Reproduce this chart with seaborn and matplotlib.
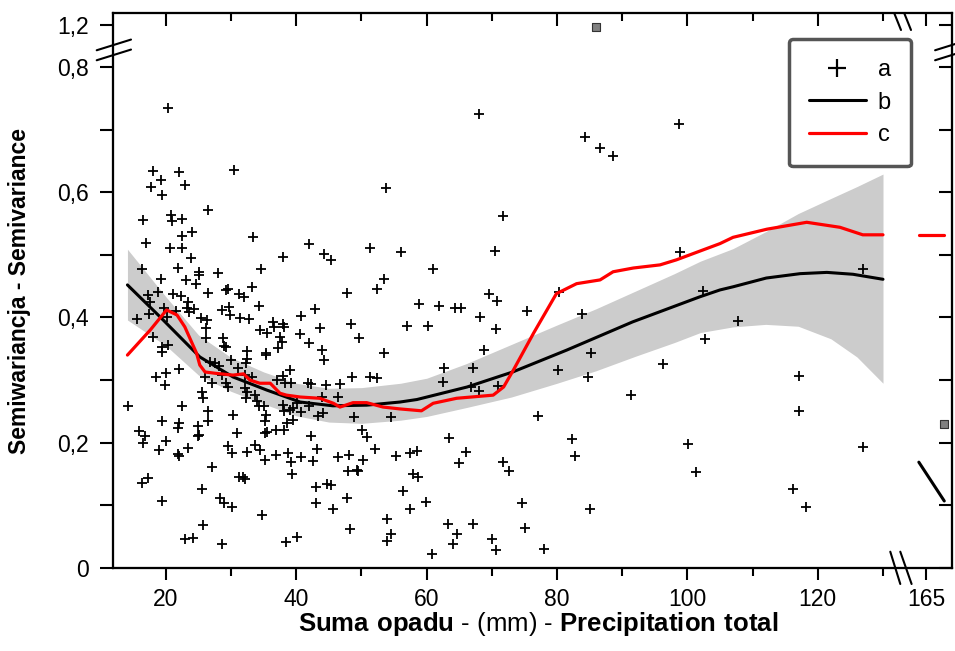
import numpy as np
import matplotlib
matplotlib.use('Agg')
import matplotlib.pyplot as plt
from matplotlib.lines import Line2D
from matplotlib.ticker import FixedLocator, FixedFormatter
import seaborn as sns

# measured points (precipitation total, semivariance)
precip = [20.28, 18.07, 22.01, 19.29, 17.71, 22.93, 19.40, 30.44, 26.50, 20.78, 22.42, 53.76, 16.44,
          68.02, 84.28, 86.62, 88.53, 98.69, 71.65, 20.89, 16.95, 23.96, 22.51, 20.63, 22.51, 23.85,
          16.38, 21.90, 25.08, 25.08, 19.25, 23.04, 24.62, 28.04, 26.50, 18.83, 21.04, 22.27, 17.21,
          17.56, 17.45, 23.43, 23.28, 23.54, 24.31, 19.71, 20.12, 21.55, 15.52, 17.97, 25.34, 26.30,
          26.15, 26.15, 19.40, 19.36, 20.37, 29.22, 29.57, 31.26, 32.02, 33.16, 33.40, 34.59, 34.28,
          28.56, 29.72, 29.83, 31.36, 32.79, 28.71, 29.22, 28.91, 32.39, 34.43, 35.46, 36.47, 36.58,
          37.91, 38.11, 37.50, 37.76, 37.24, 35.31, 35.35, 38.01, 41.95, 44.25, 45.28, 40.72, 42.87,
          43.63, 40.57, 41.99, 43.89, 44.29, 47.73, 48.34, 49.62, 51.30, 53.50, 52.38, 53.45, 56.01,
          56.98, 58.82, 18.48, 20.01, 19.86, 22.05, 14.14, 26.76, 27.53, 28.14, 29.98, 31.10, 32.24,
          32.39, 26.00, 27.02, 28.56, 29.17, 29.57, 32.13, 33.25, 36.99, 37.91, 39.03, 38.27, 39.19,
          41.84, 42.21, 44.55, 46.70, 48.50, 51.30, 52.33, 25.49, 25.74, 22.51, 26.50, 32.13, 32.24,
          32.39, 33.66, 33.93, 34.28, 35.09, 35.35, 35.20, 30.34, 37.91, 38.16, 39.03, 39.54, 40.15,
          40.72, 41.99, 43.37, 44.05, 43.89, 46.35, 48.85, 54.52, 19.36, 22.05, 21.90, 15.87, 16.79,
          16.53, 20.01, 18.94, 24.88, 25.12, 24.97, 26.50, 30.86, 35.20, 35.46, 36.89, 38.11, 38.53,
          39.54, 42.21, 43.22, 50.03, 50.80, 52.07, 21.90, 22.05, 23.43, 29.57, 30.09, 32.39, 33.66,
          34.43, 35.20, 36.89, 38.77, 39.14, 40.67, 42.61, 46.35, 48.13, 50.28, 47.97, 49.26, 49.42,
          55.29, 57.44, 58.46, 57.94, 58.71, 27.02, 31.26, 31.87, 32.13, 39.39, 16.29, 17.30, 25.49,
          19.45, 28.30, 28.96, 30.09, 34.79, 43.02, 43.02, 44.66, 45.32, 45.58, 47.73, 48.24, 53.87,
          54.52, 53.87, 56.32, 57.44, 25.64, 22.93, 24.11, 28.56, 38.42, 40.15, 70.47, 61.01, 69.60,
          70.73, 61.93, 64.34, 65.21, 60.24, 68.17, 70.63, 75.34, 68.83, 62.70, 62.55, 67.05, 66.79,
          68.02, 70.98, 80.29, 83.86, 85.20, 80.09, 84.69, 91.33, 96.29, 98.85, 102.42, 102.68, 77.02,
          63.46, 82.33, 100.12, 82.74, 101.30, 65.98, 65.00, 71.75, 72.62, 59.84, 74.66, 85.04, 63.22,
          67.05, 64.69, 63.99, 75.08, 70.06, 70.58, 78.04, 60.77, 126.96, 107.70, 117.10, 117.10,
          126.96, 116.22, 118.13]
semivar = [0.735, 0.634, 0.632, 0.619, 0.608, 0.612, 0.595, 0.636, 0.571, 0.564, 0.557, 0.606, 0.556,
           0.725, 0.688, 0.670, 0.658, 0.709, 0.562, 0.554, 0.519, 0.536, 0.530, 0.511, 0.511, 0.495,
           0.478, 0.479, 0.473, 0.468, 0.461, 0.460, 0.453, 0.471, 0.439, 0.441, 0.437, 0.434, 0.436,
           0.425, 0.405, 0.425, 0.415, 0.409, 0.413, 0.415, 0.400, 0.410, 0.398, 0.369, 0.399, 0.396,
           0.383, 0.368, 0.353, 0.345, 0.356, 0.444, 0.445, 0.437, 0.433, 0.448, 0.528, 0.477, 0.418,
           0.412, 0.416, 0.404, 0.399, 0.398, 0.367, 0.353, 0.354, 0.347, 0.380, 0.376, 0.392, 0.385,
           0.390, 0.385, 0.369, 0.361, 0.351, 0.343, 0.340, 0.496, 0.517, 0.501, 0.492, 0.403, 0.413,
           0.384, 0.373, 0.359, 0.348, 0.332, 0.439, 0.389, 0.368, 0.511, 0.462, 0.445, 0.344, 0.504,
           0.387, 0.421, 0.305, 0.311, 0.292, 0.318, 0.258, 0.329, 0.327, 0.323, 0.332, 0.319, 0.328,
           0.333, 0.305, 0.296, 0.308, 0.295, 0.289, 0.308, 0.305, 0.300, 0.307, 0.316, 0.295, 0.295,
           0.296, 0.293, 0.292, 0.293, 0.305, 0.305, 0.303, 0.281, 0.271, 0.258, 0.250, 0.287, 0.271,
           0.281, 0.276, 0.266, 0.259, 0.259, 0.244, 0.234, 0.244, 0.260, 0.250, 0.253, 0.255, 0.263,
           0.249, 0.258, 0.243, 0.247, 0.273, 0.273, 0.241, 0.241, 0.234, 0.231, 0.223, 0.219, 0.210,
           0.200, 0.202, 0.188, 0.227, 0.212, 0.210, 0.234, 0.216, 0.215, 0.217, 0.221, 0.221, 0.231,
           0.236, 0.211, 0.190, 0.220, 0.209, 0.190, 0.182, 0.179, 0.191, 0.195, 0.184, 0.186, 0.196,
           0.188, 0.172, 0.180, 0.184, 0.170, 0.177, 0.171, 0.178, 0.180, 0.172, 0.155, 0.156, 0.155,
           0.179, 0.183, 0.187, 0.150, 0.146, 0.161, 0.146, 0.146, 0.142, 0.150, 0.135, 0.144, 0.126,
           0.107, 0.111, 0.103, 0.098, 0.084, 0.130, 0.103, 0.134, 0.133, 0.095, 0.111, 0.063, 0.079,
           0.055, 0.043, 0.123, 0.095, 0.069, 0.046, 0.048, 0.038, 0.042, 0.050, 0.506, 0.477, 0.437,
           0.427, 0.418, 0.415, 0.415, 0.386, 0.401, 0.382, 0.411, 0.348, 0.319, 0.297, 0.319, 0.289,
           0.283, 0.291, 0.441, 0.405, 0.344, 0.316, 0.305, 0.276, 0.326, 0.504, 0.443, 0.365, 0.243,
           0.208, 0.206, 0.198, 0.179, 0.154, 0.185, 0.167, 0.169, 0.155, 0.106, 0.103, 0.094, 0.071,
           0.071, 0.054, 0.039, 0.064, 0.046, 0.029, 0.031, 0.022, 0.477, 0.395, 0.307, 0.251,
           0.194, 0.126, 0.097]

# outliers shown beyond the axis breaks
out_precip = [85.97, 167.76]
out_semivar = [1.197, 0.230]

# polynomial fit (b) with confidence band
fit_x = [14.1, 19.1, 25.2, 30.3, 35.5, 40.6, 45.6, 50.8, 55.9, 58.5, 66.2, 73.2, 81.5, 91.6,
         101.9, 105.0, 107.0, 112.1, 117.3, 121.4, 125.4, 130.0]
fit_y = [0.452, 0.401, 0.337, 0.305, 0.284, 0.265, 0.259, 0.260, 0.265, 0.269, 0.289, 0.313,
         0.348, 0.393, 0.433, 0.444, 0.449, 0.463, 0.470, 0.472, 0.469, 0.461]
fit_tail_x = [163.9, 167.8]
fit_tail_y = [0.169, 0.107]

band_x = [14.1, 20, 25, 30, 35, 40, 45, 50, 56, 60, 66, 73, 80, 86, 92, 98, 102, 107, 112, 117,
          122, 126, 130]
band_hi = [0.509, 0.433, 0.372, 0.336, 0.313, 0.295, 0.287, 0.288, 0.295, 0.303, 0.326, 0.357,
           0.388, 0.414, 0.442, 0.470, 0.490, 0.510, 0.537, 0.566, 0.590, 0.609, 0.629]
band_lo = [0.396, 0.355, 0.308, 0.282, 0.262, 0.243, 0.233, 0.231, 0.236, 0.242, 0.256, 0.273,
           0.295, 0.315, 0.338, 0.360, 0.376, 0.385, 0.389, 0.386, 0.366, 0.337, 0.295]

# smoothed curve (c)
smooth_x = [14.1, 17.6, 20.1, 21.7, 22.9, 24.7, 25.2, 26.0, 27.5, 30.3, 31.9, 32.9, 34.4, 36.0,
            37.5, 38.5, 40.6, 43.6, 45.7, 46.7, 48.7, 50.8, 53.3, 55.9, 59.2, 61.0, 64.6, 70.2,
            71.8, 73.3, 76.4, 79.9, 83.0, 86.6, 88.6, 91.7, 95.8, 98.3, 105.0, 107.0, 112.2,
            118.3, 123.4, 126.9, 130.0]
smooth_y = [0.340, 0.380, 0.412, 0.404, 0.385, 0.343, 0.324, 0.313, 0.311, 0.308, 0.310, 0.300,
            0.295, 0.295, 0.279, 0.276, 0.273, 0.271, 0.263, 0.257, 0.264, 0.264, 0.257, 0.254,
            0.251, 0.263, 0.271, 0.276, 0.289, 0.316, 0.375, 0.438, 0.454, 0.460, 0.473, 0.479,
            0.484, 0.492, 0.518, 0.528, 0.541, 0.552, 0.544, 0.532, 0.532]
smooth_tail_x = [163.9, 167.7]
smooth_tail_y = [0.532, 0.532]

x_major = [20, 40, 60, 80, 100, 120, 165]
x_minor = [30, 50, 70, 90, 110, 130]
y_ticks = [0, 0.1, 0.2, 0.3, 0.4, 0.5, 0.6, 0.7, 0.8, 1.2]
y_labels = ['0', '', '0,2', '', '0,4', '', '0,6', '', '0,8', '1,2']

X_GAP = (132.7, 161.1)
Y_GAP = (0.827, 1.160)
XLIM = (11.93, 168.94)
YLIM = (0.0, 1.2187)


def make_break(lo, hi):
    shift = hi - lo

    def fwd(v):
        v = np.asarray(v, dtype=float)
        return np.where(v <= lo, v, np.where(v >= hi, v - shift, lo))

    def inv(t):
        t = np.asarray(t, dtype=float)
        return np.where(t <= lo, t, t + shift)
    return fwd, inv


x_fwd, x_inv = make_break(*X_GAP)
y_fwd, y_inv = make_break(*Y_GAP)

sns.set_style('ticks')
plt.rcParams['font.family'] = ['Liberation Sans', 'DejaVu Sans']
plt.rcParams['mathtext.fontset'] = 'custom'
plt.rcParams['mathtext.rm'] = 'Liberation Sans'
plt.rcParams['mathtext.bf'] = 'Liberation Sans:bold'
plt.rcParams['axes.linewidth'] = 1.5
for key in ('axes.edgecolor', 'text.color', 'axes.labelcolor', 'xtick.color', 'ytick.color'):
    plt.rcParams[key] = 'black'

FW, FH = 955, 651
L, R, T, Bm = 113.3, 951.7, 13.3, 568.0
fig = plt.figure(figsize=(FW / 100, FH / 100), dpi=100)
ax = fig.add_axes([L / FW, (FH - Bm) / FH, (R - L) / FW, (Bm - T) / FH])
ax.set_xscale('function', functions=(x_fwd, x_inv))
ax.set_yscale('function', functions=(y_fwd, y_inv))

ax.fill_between(band_x, band_lo, band_hi, color='#cccccc', lw=0, zorder=1)
sns.scatterplot(x=precip, y=semivar, marker='+', color='black', s=45, linewidth=1.3,
                ax=ax, zorder=2, legend=False)
sns.scatterplot(x=out_precip, y=out_semivar, marker='s', color='#808080', edgecolor='#333333',
                s=30, linewidth=0.8, ax=ax, zorder=2, legend=False)
for xs, ys in [(fit_x, fit_y), (fit_tail_x, fit_tail_y)]:
    sns.lineplot(x=xs, y=ys, sort=False, estimator=None, color='black', linewidth=2.2,
                 ax=ax, zorder=3)
for xs, ys in [(smooth_x, smooth_y), (smooth_tail_x, smooth_tail_y)]:
    sns.lineplot(x=xs, y=ys, sort=False, estimator=None, color='red', linewidth=2.3,
                 ax=ax, zorder=4)

ax.set_xlim(*XLIM)
ax.set_ylim(*YLIM)

ax.xaxis.set_major_locator(FixedLocator(x_major))
ax.xaxis.set_minor_locator(FixedLocator(x_minor))
ax.xaxis.set_major_formatter(FixedFormatter([str(v) for v in x_major]))
ax.yaxis.set_major_locator(FixedLocator(y_ticks))
ax.yaxis.set_major_formatter(FixedFormatter(y_labels))
ax.tick_params(axis='x', which='major', direction='out', length=8.5, width=1.5,
               labelsize=16.5, pad=6)
ax.tick_params(axis='x', which='minor', direction='out', length=6, width=1.5)
ax.tick_params(axis='y', which='major', direction='out', length=9.6, width=1.5,
               labelsize=16.5, pad=8)

# mirrored ticks pointing inwards on the top and right edges
ax_r = ax.twinx()
ax_r.set_yscale('function', functions=(y_fwd, y_inv))
ax_r.set_ylim(*YLIM)
ax_r.yaxis.set_major_locator(FixedLocator(y_ticks))
ax_r.tick_params(axis='y', direction='in', length=9.6, width=1.5, labelright=False)
ax_t = ax.twiny()
ax_t.set_xscale('function', functions=(x_fwd, x_inv))
ax_t.set_xlim(*XLIM)
ax_t.xaxis.set_major_locator(FixedLocator(x_major))
ax_t.xaxis.set_minor_locator(FixedLocator(x_minor))
ax_t.tick_params(axis='x', which='major', direction='in', length=9.6, width=1.5, labeltop=False)
ax_t.tick_params(axis='x', which='minor', direction='in', length=6, width=1.5)
for a in (ax_r, ax_t):
    a.grid(False)

ax.set_ylabel('Semiwariancja - Semivariance', fontsize=16.5, fontweight='bold')
ax.yaxis.set_label_coords((30.5 - L) / (R - L), 0.5)
ax.set_xlabel(r'$\mathbf{Suma\ opadu}$ - (mm) - $\mathbf{Precipitation\ total}$', fontsize=18.5)
ax.xaxis.set_label_coords((538 - L) / (R - L), (Bm - 610) / (Bm - T))

# axis break marks
AW, AH = R - L, Bm - T
tx = x_fwd([XLIM[0], X_GAP[0], XLIM[1]])
bx = float((tx[1] - tx[0]) / (tx[2] - tx[0]))
ty = y_fwd([YLIM[0], Y_GAP[0], YLIM[1]])
by = float((ty[1] - ty[0]) / (ty[2] - ty[0]))


def mark(x0, y0, pts):
    xs = [x0 + p[0] / AW for p in pts]
    ys = [y0 + p[1] / AH for p in pts]
    ax.plot(xs, ys, color='black', lw=1.5, transform=ax.transAxes, clip_on=False, zorder=6)


mark(bx, 0, [(-10.3, 16.3), (-0.3, -16)])
mark(bx, 0, [(-0.3, 16.3), (11, -16)])
mark(bx, 1, [(-6.3, 0), (0.4, -16.7)])
mark(bx, 1, [(3.7, 0), (10.4, -16.7)])
for sx in (0, 1):
    mark(sx, by, [(-16.6, -0.2), (17.7, 10.5)])
    mark(sx, by, [(-16.6, -10.2), (17.7, 0.5)])

handles = [Line2D([], [], marker='+', color='black', linestyle='None', markersize=13, mew=1.6),
           Line2D([], [], color='black', lw=2.2),
           Line2D([], [], color='red', lw=2.3)]
leg = ax.legend(handles, ['a', 'b', 'c'], loc='upper right',
                bbox_to_anchor=((910.7 - L) / AW, (Bm - 39) / AH), borderaxespad=0,
                fontsize=17, handlelength=2.4, handletextpad=0.5, labelspacing=0.45,
                borderpad=0.85, frameon=True, fancybox=True, framealpha=1,
                edgecolor='#555555')
leg.get_frame().set_linewidth(2.5)
leg.get_frame().set_boxstyle('round', pad=0, rounding_size=0.15)
leg.set_zorder(10)

fig.savefig('out.png', dpi=100)
